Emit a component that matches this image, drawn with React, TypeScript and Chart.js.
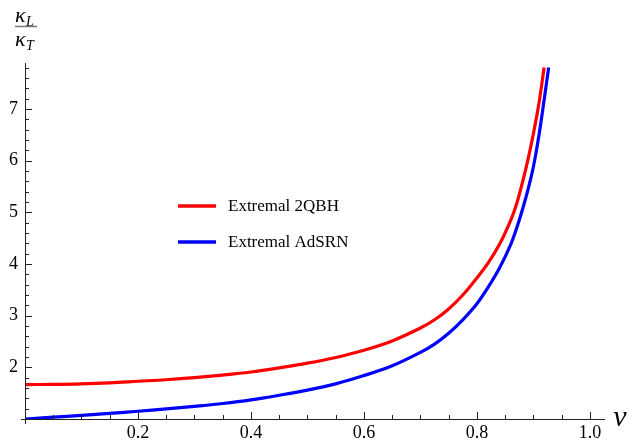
import React, { useEffect, useRef } from "react";
import { Chart, registerables } from "chart.js";

Chart.register(...registerables);

const redLabel = "Extremal 2QBH";
const blueLabel = "Extremal AdSRN";

const redX = [0, 0.05, 0.1, 0.15, 0.2, 0.25, 0.3, 0.35, 0.4, 0.45, 0.5, 0.55, 0.6, 0.65, 0.7, 0.725, 0.75, 0.775, 0.8, 0.82, 0.84, 0.86, 0.87, 0.88, 0.89, 0.9, 0.91, 0.919];
const redY = [1.667, 1.67, 1.68, 1.7, 1.73, 1.76, 1.8, 1.85, 1.91, 1.99, 2.08, 2.19, 2.33, 2.51, 2.76, 2.92, 3.13, 3.4, 3.73, 4.02, 4.38, 4.85, 5.15, 5.55, 6.0, 6.52, 7.12, 7.8];

const blueX = [0, 0.05, 0.1, 0.15, 0.2, 0.25, 0.3, 0.35, 0.4, 0.45, 0.5, 0.55, 0.6, 0.65, 0.7, 0.725, 0.75, 0.775, 0.8, 0.82, 0.84, 0.86, 0.87, 0.88, 0.89, 0.9, 0.91, 0.92, 0.927];
const blueY = [1.0, 1.035, 1.07, 1.11, 1.15, 1.195, 1.245, 1.3, 1.37, 1.46, 1.56, 1.68, 1.84, 2.03, 2.29, 2.45, 2.66, 2.92, 3.23, 3.55, 3.92, 4.38, 4.68, 5.03, 5.42, 5.88, 6.5, 7.25, 7.8];

const xMajorTicks = [0.2, 0.4, 0.6, 0.8, 1.0];
const yMajorTicks = [2, 3, 4, 5, 6, 7];

const toPts = (xs: number[], ys: number[]) => xs.map((x, i) => ({ x, y: ys[i] }));

const axesPlugin = {
  id: "mathAxes",
  afterDraw(chart: any) {
    const ctx = chart.ctx as CanvasRenderingContext2D;
    const xs = chart.scales.x;
    const ys = chart.scales.y;
    const x0 = xs.getPixelForValue(0);
    const y0 = ys.getPixelForValue(1);
    ctx.save();
    ctx.strokeStyle = "#222";
    ctx.lineWidth = 1;
    ctx.beginPath();
    ctx.moveTo(Math.round(x0) + 0.5, chart.chartArea.top - 2);
    ctx.lineTo(Math.round(x0) + 0.5, y0 + 5);
    ctx.moveTo(x0 - 4, Math.round(y0) + 0.5);
    ctx.lineTo(chart.chartArea.right + 1, Math.round(y0) + 0.5);
    ctx.stroke();
    ctx.beginPath();
    for (let i = 1; i <= 20; i++) {
      const v = i * 0.05;
      const px = Math.round(xs.getPixelForValue(v)) + 0.5;
      const len = i % 4 === 0 ? 7 : 4;
      ctx.moveTo(px, y0);
      ctx.lineTo(px, y0 - len);
    }
    for (let i = 1; i <= 34; i++) {
      const v = 1 + i * 0.2;
      if (v > 7.86) break;
      const py = Math.round(ys.getPixelForValue(v)) + 0.5;
      const len = i % 5 === 0 ? 7 : 4;
      ctx.moveTo(x0, py);
      ctx.lineTo(x0 + len, py);
    }
    ctx.stroke();

    ctx.fillStyle = "#000";
    ctx.textBaseline = "alphabetic";
    ctx.textAlign = "left";
    ctx.font = "italic 22px 'Liberation Serif'";
    ctx.fillText("κ", 15, 22);
    ctx.fillText("κ", 15, 46);
    ctx.font = "italic 14px 'Liberation Serif'";
    ctx.fillText("L", 26, 26);
    ctx.fillText("T", 26, 50);
    ctx.strokeStyle = "#777";
    ctx.lineWidth = 1.5;
    ctx.beginPath();
    ctx.moveTo(15, 26.5);
    ctx.lineTo(37, 26.5);
    ctx.stroke();

    ctx.font = "italic 30px 'Liberation Serif'";
    ctx.textAlign = "center";
    ctx.textBaseline = "middle";
    ctx.fillText("ν", 620, 418);

    const ds = chart.data.datasets;
    const rows = [206, 242];
    ds.forEach((d: any, i: number) => {
      const y = rows[i];
      ctx.strokeStyle = d.borderColor;
      ctx.lineWidth = 3.5;
      ctx.beginPath();
      ctx.moveTo(178, y);
      ctx.lineTo(216, y);
      ctx.stroke();
      ctx.fillStyle = "#000";
      ctx.font = "17px 'Liberation Serif'";
      ctx.textAlign = "left";
      ctx.textBaseline = "middle";
      ctx.fillText(d.label, 228, y + 1);
    });
    ctx.restore();
  },
};

export default function App() {
  const ref = useRef<HTMLCanvasElement | null>(null);
  useEffect(() => {
    if (!ref.current) return;
    const chart = new Chart(ref.current, {
      type: "line",
      data: {
        datasets: [
          {
            label: redLabel,
            data: toPts(redX, redY),
            borderColor: "#ff0000",
            borderWidth: 3.2,
            pointRadius: 0,
            tension: 0.35,
            fill: false,
          },
          {
            label: blueLabel,
            data: toPts(blueX, blueY),
            borderColor: "#0000ff",
            borderWidth: 3.2,
            pointRadius: 0,
            tension: 0.35,
            fill: false,
          },
        ],
      },
      options: {
        animation: false,
        responsive: false,
        maintainAspectRatio: false,
        layout: { padding: { top: 65, right: 37, left: 0, bottom: 0 } },
        plugins: { legend: { display: false }, tooltip: { enabled: false } },
        scales: {
          x: {
            type: "linear",
            min: 0,
            max: 1.025,
            grid: { display: false, drawTicks: false, tickLength: 0 },
            border: { display: false },
            afterBuildTicks: (s: any) => {
              s.ticks = xMajorTicks.map((v) => ({ value: v }));
            },
            afterFit: (s: any) => {
              s.height = 25;
            },
            ticks: {
              padding: 3,
              maxRotation: 0,
              autoSkip: false,
              color: "#000",
              font: { family: "'Liberation Serif'", size: 18 },
              callback: (v: any) => Number(v).toFixed(1),
            },
          },
          y: {
            type: "linear",
            min: 1,
            max: 7.85,
            grid: { display: false, drawTicks: false, tickLength: 0 },
            border: { display: false },
            afterBuildTicks: (s: any) => {
              s.ticks = yMajorTicks.map((v) => ({ value: v }));
            },
            afterFit: (s: any) => {
              s.width = 25;
            },
            ticks: {
              padding: 7,
              autoSkip: false,
              color: "#000",
              font: { family: "'Liberation Serif'", size: 18 },
              callback: (v: any) => String(v),
            },
          },
        },
      },
      plugins: [axesPlugin],
    });
    return () => chart.destroy();
  }, []);
  return (
    <div style={{ position: "fixed", left: 0, top: 0, width: 641, height: 444, background: "#fff" }}>
      <canvas ref={ref} width={641} height={444} style={{ width: 641, height: 444 }} />
    </div>
  );
}
